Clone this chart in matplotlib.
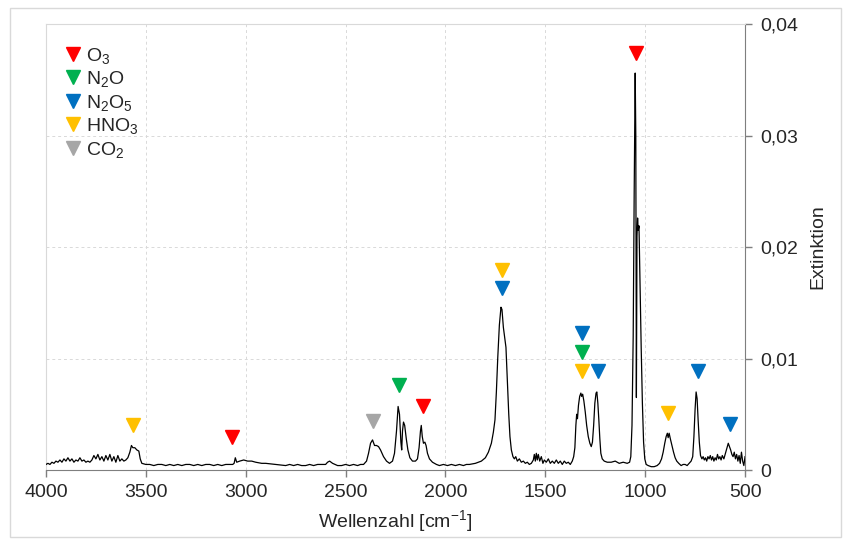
# IR-Spektrum mit markierten Banden (O3, N2O, N2O5, HNO3, CO2)
import matplotlib
matplotlib.use('Agg')
import matplotlib.pyplot as plt
from matplotlib.lines import Line2D
from matplotlib.patches import Rectangle
from matplotlib.ticker import FuncFormatter, MultipleLocator

plt.rcParams['font.family'] = ['Liberation Sans', 'DejaVu Sans']
plt.rcParams['mathtext.fontset'] = 'custom'
plt.rcParams['mathtext.rm'] = 'Liberation Sans'
plt.rcParams['mathtext.it'] = 'Liberation Sans:italic'

# Spektrum
wellenzahl = [
    4000, 3990, 3980, 3970, 3960, 3950, 3940, 3930, 3920, 3910, 3900, 3890, 3880, 3870,
    3860, 3850, 3840, 3830, 3820, 3810, 3800, 3790, 3780, 3770, 3760, 3750, 3740, 3730,
    3720, 3710, 3700, 3690, 3680, 3670, 3660, 3650, 3640, 3630, 3620, 3610, 3600, 3590,
    3580, 3572, 3565, 3555, 3545, 3535, 3528, 3520, 3500, 3480, 3460, 3440, 3420, 3400,
    3380, 3360, 3340, 3320, 3300, 3280, 3260, 3240, 3220, 3200, 3180, 3160, 3140, 3120,
    3100, 3080, 3065, 3058, 3052, 3045, 3030, 3010, 2990, 2970, 2950, 2920, 2900, 2850,
    2800, 2780, 2760, 2740, 2720, 2700, 2680, 2660, 2640, 2620, 2600, 2590, 2580, 2565,
    2540, 2520, 2500, 2480, 2460, 2440, 2425, 2410, 2395, 2385, 2375, 2365, 2355, 2345,
    2335, 2325, 2310, 2295, 2280, 2265, 2255, 2245, 2237, 2230, 2223, 2219, 2215, 2210,
    2204, 2196, 2188, 2178, 2165, 2150, 2140, 2132, 2125, 2121, 2116, 2110, 2103, 2097,
    2090, 2080, 2065, 2045, 2030, 2010, 1990, 1970, 1950, 1930, 1910, 1895, 1880, 1850,
    1820, 1800, 1785, 1770, 1760, 1752, 1745, 1738, 1730, 1722, 1717, 1710, 1703, 1697,
    1690, 1683, 1677, 1670, 1662, 1655, 1648, 1640, 1630, 1620, 1610, 1600, 1590, 1580,
    1570, 1560, 1555, 1550, 1545, 1540, 1535, 1528, 1520, 1512, 1505, 1495, 1485, 1475,
    1465, 1455, 1445, 1435, 1425, 1415, 1405, 1395, 1385, 1375, 1365, 1358, 1352, 1347,
    1343, 1339, 1334, 1328, 1322, 1318, 1313, 1307, 1300, 1293, 1285, 1277, 1270, 1264,
    1258, 1252, 1246, 1242, 1237, 1232, 1227, 1222, 1215, 1205, 1190, 1170, 1150, 1130,
    1110, 1090, 1078, 1072, 1066, 1060, 1055, 1050, 1047, 1044, 1041, 1038, 1035, 1031,
    1026, 1020, 1014, 1008, 1002, 995, 985, 970, 955, 940, 928, 918, 910, 902,
    895, 889, 885, 880, 874, 866, 858, 850, 842, 832, 820, 810, 800, 790,
    780, 770, 762, 756, 750, 745, 740, 735, 729, 723, 716, 710, 704, 698,
    692, 686, 680, 674, 668, 662, 656, 650, 644, 638, 632, 626, 620, 614,
    606, 598, 590, 584, 578, 572, 566, 560, 554, 548, 542, 536, 530, 524,
    518, 512, 506, 500,
]
extinktion = [
    0.0005, 0.0006, 0.0005, 0.0007, 0.0006, 0.0008, 0.0007, 0.0009, 0.0007, 0.0010, 0.0008, 0.0011, 0.0008, 0.0010,
    0.0007, 0.0009, 0.0008, 0.0011, 0.0008, 0.0009, 0.0007, 0.0008, 0.0007, 0.0009, 0.0013, 0.0010, 0.0014, 0.0009,
    0.0012, 0.0008, 0.0013, 0.0009, 0.0014, 0.0008, 0.0012, 0.0007, 0.0013, 0.0008, 0.0010, 0.0008, 0.0009, 0.0011,
    0.0016, 0.0022, 0.0020, 0.0020, 0.0018, 0.0017, 0.0010, 0.0006, 0.0005, 0.0005, 0.0004, 0.0005, 0.0005, 0.0004,
    0.0005, 0.0004, 0.0005, 0.0004, 0.0005, 0.0005, 0.0004, 0.0005, 0.0004, 0.0005, 0.0005, 0.0004, 0.0005, 0.0004,
    0.0005, 0.0005, 0.0005, 0.0006, 0.0011, 0.0007, 0.0008, 0.0009, 0.0008, 0.0008, 0.0007, 0.0006, 0.0006, 0.0005,
    0.0004, 0.0005, 0.0004, 0.0005, 0.0004, 0.0004, 0.0005, 0.0004, 0.0005, 0.0005, 0.0005, 0.0007, 0.0008, 0.0006,
    0.0004, 0.0004, 0.0005, 0.0004, 0.0005, 0.0004, 0.0005, 0.0005, 0.0008, 0.0015, 0.0024, 0.0027, 0.0022, 0.0022,
    0.0021, 0.0018, 0.0012, 0.0008, 0.0006, 0.0008, 0.0015, 0.0035, 0.0057, 0.0050, 0.0025, 0.0018, 0.0035, 0.0043,
    0.0040, 0.0028, 0.0018, 0.0011, 0.0008, 0.0008, 0.0010, 0.0020, 0.0035, 0.0040, 0.0030, 0.0024, 0.0025, 0.0022,
    0.0015, 0.0010, 0.0007, 0.0005, 0.0004, 0.0005, 0.0004, 0.0005, 0.0004, 0.0005, 0.0004, 0.0005, 0.0005, 0.0006,
    0.0008, 0.0011, 0.0016, 0.0024, 0.0034, 0.0045, 0.0070, 0.0101, 0.0130, 0.0146, 0.0144, 0.0128, 0.0118, 0.0110,
    0.0080, 0.0050, 0.0030, 0.0018, 0.0012, 0.0010, 0.0012, 0.0008, 0.0010, 0.0007, 0.0008, 0.0006, 0.0007, 0.0005,
    0.0006, 0.0009, 0.0014, 0.0008, 0.0015, 0.0009, 0.0014, 0.0008, 0.0012, 0.0006, 0.0009, 0.0007, 0.0010, 0.0006,
    0.0008, 0.0006, 0.0009, 0.0006, 0.0008, 0.0005, 0.0008, 0.0006, 0.0007, 0.0005, 0.0008, 0.0012, 0.0020, 0.0040,
    0.0050, 0.0046, 0.0058, 0.0066, 0.0069, 0.0066, 0.0068, 0.0062, 0.0052, 0.0040, 0.0030, 0.0024, 0.0021, 0.0025,
    0.0040, 0.0060, 0.0069, 0.0070, 0.0060, 0.0045, 0.0028, 0.0015, 0.0010, 0.0008, 0.0007, 0.0007, 0.0008, 0.0006,
    0.0007, 0.0006, 0.0007, 0.0012, 0.0040, 0.0120, 0.0250, 0.0356, 0.0300, 0.0065, 0.0210, 0.0226, 0.0215, 0.0219,
    0.0170, 0.0110, 0.0060, 0.0025, 0.0010, 0.0005, 0.0004, 0.0003, 0.0003, 0.0004, 0.0006, 0.0010, 0.0016, 0.0024,
    0.0030, 0.0033, 0.0029, 0.0033, 0.0028, 0.0022, 0.0016, 0.0011, 0.0008, 0.0006, 0.0004, 0.0005, 0.0005, 0.0004,
    0.0006, 0.0008, 0.0012, 0.0030, 0.0055, 0.0070, 0.0064, 0.0045, 0.0025, 0.0013, 0.0010, 0.0012, 0.0009, 0.0011,
    0.0008, 0.0012, 0.0010, 0.0013, 0.0009, 0.0012, 0.0008, 0.0011, 0.0009, 0.0014, 0.0010, 0.0012, 0.0009, 0.0013,
    0.0010, 0.0015, 0.0020, 0.0024, 0.0021, 0.0018, 0.0014, 0.0012, 0.0016, 0.0010, 0.0014, 0.0008, 0.0013, 0.0006,
    0.0016, 0.0008, 0.0004, 0.0012,
]

# Bandenzuordnung: Position der Dreiecke
o3_x = [3067, 2110, 1047]
o3_y = [0.0030, 0.0057, 0.0374]
n2o_x = [2230, 1318]
n2o_y = [0.0076, 0.0106]
n2o5_x = [1719, 1318, 1237, 736, 575]
n2o5_y = [0.0163, 0.0123, 0.0089, 0.0089, 0.0041]
hno3_x = [3564, 1719, 1318, 886]
hno3_y = [0.0040, 0.0179, 0.0089, 0.0051]
co2_x = [2365]
co2_y = [0.0044]

fs = 14
textfarbe = '#262626'

fig = plt.figure(figsize=(8.51, 5.43), dpi=100)
ax = fig.add_axes([0.054, 0.1344, 0.8215, 0.8214])

ax.plot(wellenzahl, extinktion, color='black', lw=0.9, zorder=3)

ms = 9.5
ax.plot(o3_x, o3_y, 'v', color='#FF0000', ms=ms, ls='none', zorder=4)
ax.plot(n2o_x, n2o_y, 'v', color='#00B050', ms=ms, ls='none', zorder=4)
ax.plot(n2o5_x, n2o5_y, 'v', color='#0070C0', ms=ms, ls='none', zorder=4)
ax.plot(hno3_x, hno3_y, 'v', color='#FFC000', ms=ms, ls='none', zorder=4)
ax.plot(co2_x, co2_y, 'v', color='#A6A6A6', ms=ms, ls='none', zorder=4)

ax.set_xlim(4000, 500)
ax.set_ylim(0, 0.04)
ax.xaxis.set_major_locator(MultipleLocator(500))
ax.yaxis.set_major_locator(MultipleLocator(0.01))
ax.yaxis.set_major_formatter(FuncFormatter(
    lambda v, p: '0' if abs(v) < 1e-9 else f'{v:.2f}'.replace('.', ',')))

ax.yaxis.tick_right()
ax.yaxis.set_label_position('right')
ax.tick_params(axis='both', direction='out', length=5, width=1, color='#7f7f7f',
               labelsize=fs, labelcolor=textfarbe)
ax.tick_params(axis='y', pad=6)
ax.tick_params(axis='x', pad=5)

ax.grid(True, ls=(0, (3, 3)), color='#d9d9d9', lw=0.7, zorder=0)

for s in ['left', 'top']:
    ax.spines[s].set_color('#d9d9d9')
for s in ['right', 'bottom']:
    ax.spines[s].set_color('#7f7f7f')

ax.set_xlabel(r'Wellenzahl [cm$^{\mathregular{-1}}$]', fontsize=fs, color=textfarbe, labelpad=5)
ax.set_ylabel('Extinktion', fontsize=fs, color=textfarbe, labelpad=8)

handles = [
    Line2D([], [], marker='v', ls='none', color='#FF0000', ms=ms),
    Line2D([], [], marker='v', ls='none', color='#00B050', ms=ms),
    Line2D([], [], marker='v', ls='none', color='#0070C0', ms=ms),
    Line2D([], [], marker='v', ls='none', color='#FFC000', ms=ms),
    Line2D([], [], marker='v', ls='none', color='#A6A6A6', ms=ms),
]
labels = [r'O$_3$', r'N$_2$O', r'N$_2$O$_5$', r'HNO$_3$', r'CO$_2$']
leg = ax.legend(handles, labels, loc='upper left', frameon=False, fontsize=fs,
                handlelength=0.9, handletextpad=0.25, labelspacing=0.18,
                borderaxespad=0.3, bbox_to_anchor=(0.006, 0.982))
for t in leg.get_texts():
    t.set_color(textfarbe)

# Rahmen um die ganze Grafik
fig.patches.append(Rectangle((0.012, 0.011), 0.976, 0.974, transform=fig.transFigure,
                             fill=False, ec='#d9d9d9', lw=1))

plt.savefig('out.png', dpi=100)
